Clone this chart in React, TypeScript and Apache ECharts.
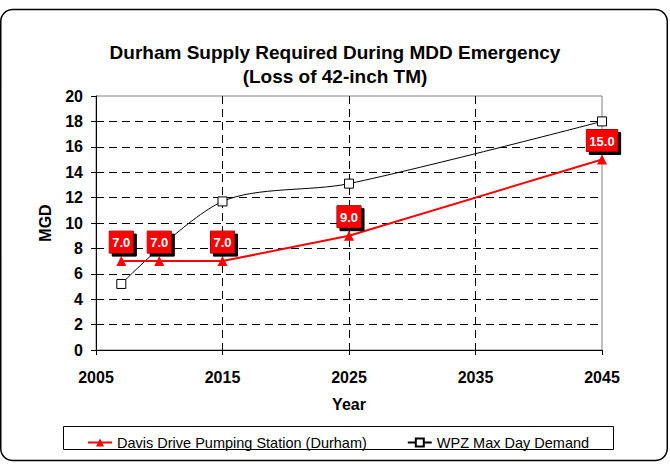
import React, { useEffect, useRef } from "react";
import * as echarts from "echarts";

const title = "Durham Supply Required During MDD Emergency\n(Loss of 42-inch TM)";
const davisName = "Davis Drive Pumping Station (Durham)";
const wpzName = "WPZ Max Day Demand";
const davisYears = [2007, 2010, 2015, 2025, 2045];
const davisValues = [7.0, 7.0, 7.0, 9.0, 15.0];
const wpzYears = [2007, 2015, 2025, 2045];
const wpzValues = [5.2, 11.7, 13.1, 18.0];
const xTicks = [2005, 2015, 2025, 2035, 2045];

export default function App() {
  const ref = useRef<HTMLDivElement>(null);
  useEffect(() => {
    document.body.style.margin = "0";
    const chart = echarts.init(ref.current!, null, { renderer: "svg" });
    const font = "Liberation Sans, Arial, sans-serif";
    chart.setOption({
      animation: false,
      backgroundColor: "#fff",
      textStyle: { fontFamily: font },
      title: {
        text: title,
        left: "center",
        top: 35,
        textStyle: { fontSize: 19, fontWeight: "bold", color: "#000", lineHeight: 24, fontFamily: font },
      },
      grid: { left: 96, right: 68, top: 96, bottom: 115, show: true, borderColor: "#808080", borderWidth: 1 },
      xAxis: {
        type: "value",
        min: xTicks[0],
        max: xTicks[xTicks.length - 1],
        interval: 10,
        name: "Year",
        nameLocation: "middle",
        nameGap: 46,
        nameTextStyle: { fontSize: 16, fontWeight: "bold", color: "#000" },
        axisLine: { show: true, lineStyle: { color: "#000", width: 1 } },
        axisTick: { show: true, length: 5, lineStyle: { color: "#000" } },
        axisLabel: { fontSize: 16, fontWeight: "bold", color: "#000", margin: 19, formatter: (v: number) => String(v) },
        splitLine: { show: true, showMinLine: false, showMaxLine: false, lineStyle: { color: "#000", type: [8, 5], width: 1 } },
      },
      yAxis: {
        type: "value",
        min: 0,
        max: 20,
        interval: 2,
        name: "MGD",
        nameLocation: "middle",
        nameGap: 43,
        nameTextStyle: { fontSize: 16, fontWeight: "bold", color: "#000" },
        axisLine: { show: true, lineStyle: { color: "#000", width: 1 } },
        axisTick: { show: true, length: 5, lineStyle: { color: "#000" } },
        axisLabel: { fontSize: 16, fontWeight: "bold", color: "#000", margin: 13 },
        splitLine: { show: true, showMinLine: false, showMaxLine: false, lineStyle: { color: "#000", type: [8, 5], width: 1 } },
      },
      legend: {
        data: [davisName, wpzName],
        left: 82,
        top: 430,
        itemWidth: 24,
        itemHeight: 10,
        itemGap: 40,
        textStyle: { fontSize: 14.5, color: "#000", fontFamily: font },
      },
      graphic: [
        {
          type: "rect",
          shape: { x: 0.75, y: 9.5, width: 666.5, height: 451, r: 12 },
          style: { fill: "none", stroke: "#000", lineWidth: 1.5 },
          silent: true,
        },
        {
          type: "rect",
          shape: { x: 63.5, y: 426.5, width: 550, height: 23 },
          style: { fill: "none", stroke: "#000", lineWidth: 1 },
          silent: true,
        },
      ],
      series: [
        {
          name: wpzName,
          type: "line",
          smooth: 0.3,
          data: wpzYears.map((y, i) => [y, wpzValues[i]]),
          symbol: "rect",
          symbolSize: 9,
          lineStyle: { color: "#000", width: 1 },
          itemStyle: { color: "#fff", borderColor: "#000", borderWidth: 1 },
          z: 2,
        },
        {
          name: davisName,
          type: "line",
          data: davisYears.map((y, i) => [y, davisValues[i]]),
          symbol: "triangle",
          symbolSize: 10,
          lineStyle: { color: "#ff0000", width: 2 },
          itemStyle: { color: "#ff0000" },
          z: 3,
          label: {
            show: true,
            position: "top",
            distance: 3,
            formatter: (p: any) => Number(p.value[1]).toFixed(1),
            color: "#fff",
            fontWeight: "bold",
            fontSize: 13,
            fontFamily: font,
            backgroundColor: "#ff0000",
            borderColor: "#600",
            borderWidth: 0.5,
            padding: [5, 3, 4, 3],
            shadowColor: "#000",
            shadowOffsetX: 3,
            shadowOffsetY: 3,
            shadowBlur: 0,
          },
        },
      ],
    });
    return () => chart.dispose();
  }, []);
  return <div ref={ref} style={{ width: 670, height: 465 }} />;
}
